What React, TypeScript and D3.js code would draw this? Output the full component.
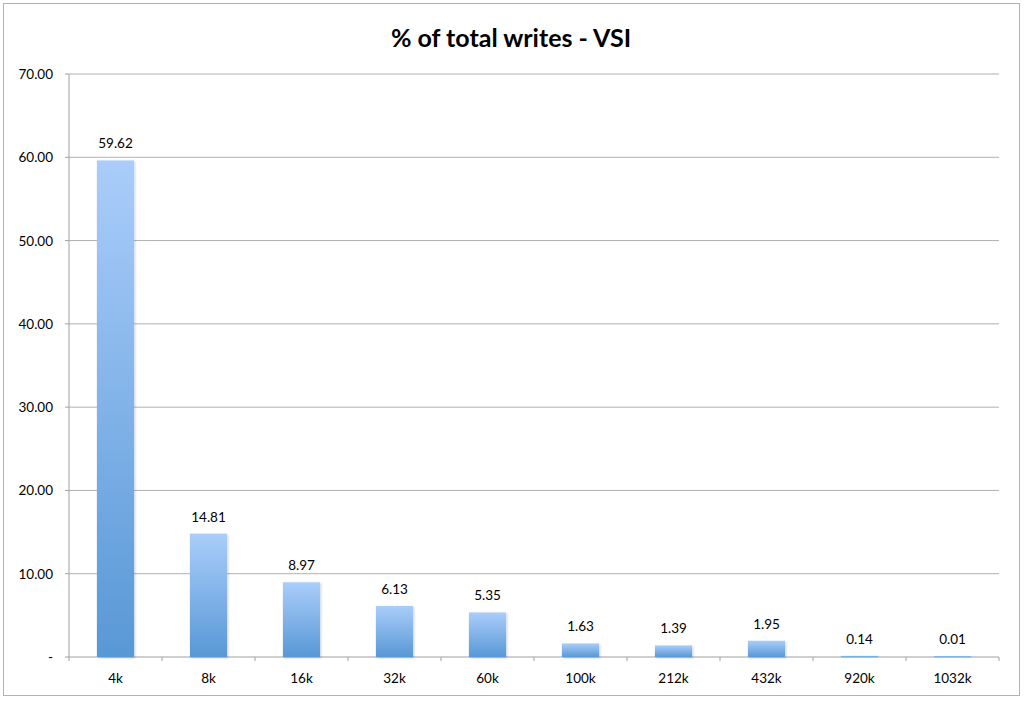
import React from "react";
import * as d3 from "d3";

const categories = ["4k", "8k", "16k", "32k", "60k", "100k", "212k", "432k", "920k", "1032k"];
const values = [59.62, 14.81, 8.97, 6.13, 5.35, 1.63, 1.39, 1.95, 0.14, 0.01];
const yTicks = [0, 10, 20, 30, 40, 50, 60, 70];
const title = "% of total writes - VSI";

const W = 1024;
const H = 701;
const left = 69;
const right = 999;
const top = 74;
const bottom = 657;
const font = "Lato, 'Open Sans', sans-serif";

export default function App() {
  const x = d3.scaleBand<string>().domain(categories).range([left, right]).paddingInner(0).paddingOuter(0);
  const y = d3.scaleLinear().domain([0, 70]).range([bottom, top]);
  const bw = x.bandwidth() * 0.4;
  const fmt = (v: number) => (v === 0 ? "-" : d3.format(".2f")(v));
  return (
    <svg width={W} height={H} style={{ position: "absolute", left: 0, top: 0 }}>
      <defs>
        <linearGradient id="barGrad" x1="0" y1="0" x2="0" y2="1">
          <stop offset="0%" stopColor="#aacdfa" />
          <stop offset="100%" stopColor="#5898d6" />
        </linearGradient>
        <filter id="shadow" x="-20%" y="-20%" width="140%" height="140%">
          <feDropShadow dx="1" dy="1" stdDeviation="1" floodColor="#000" floodOpacity="0.2" />
        </filter>
      </defs>
      <rect x={0} y={0} width={W} height={H} fill="#fff" />
      <rect x={3.5} y={3.5} width={1016} height={692} fill="#fff" stroke="#b3b3b3" strokeWidth={1} />
      <text x={511} y={47} textAnchor="middle" fontFamily={font} fontWeight="bold" fontSize={25} fill="#000">
        {title}
      </text>
      {yTicks.map((t) => (
        <g key={t}>
          {t > 0 && <line x1={left} x2={right} y1={y(t)} y2={y(t)} stroke="#b0b0b0" strokeWidth={1} />}
          <line x1={left - 4} x2={left} y1={y(t)} y2={y(t)} stroke="#a0a0a0" strokeWidth={1} />
          <text x={left - 16} y={y(t) + 5} textAnchor="end" fontFamily={font} fontSize={13.5} fill="#000">
            {fmt(t)}
          </text>
        </g>
      ))}
      <line x1={left} x2={left} y1={top} y2={bottom} stroke="#a0a0a0" strokeWidth={1} />
      <line x1={left} x2={right} y1={bottom} y2={bottom} stroke="#a0a0a0" strokeWidth={1} />
      {categories.map((c) => (
        <line key={"t" + c} x1={x(c)!} x2={x(c)!} y1={bottom} y2={bottom + 4} stroke="#a0a0a0" />
      ))}
      <line x1={right} x2={right} y1={bottom} y2={bottom + 4} stroke="#a0a0a0" />
      {categories.map((c, i) => {
        const cx = x(c)! + x.bandwidth() / 2;
        const v = values[i];
        const yt = y(v);
        const h = Math.max(bottom - yt, 1);
        return (
          <g key={c}>
            <rect x={cx - bw / 2} y={bottom - h} width={bw} height={h} fill="url(#barGrad)" filter="url(#shadow)" />
            <text x={cx} y={bottom - h - 12} textAnchor="middle" fontFamily={font} fontSize={13.5} fill="#000">
              {d3.format(".2f")(v)}
            </text>
            <text x={cx} y={bottom + 26} textAnchor="middle" fontFamily={font} fontSize={13.5} fill="#000">
              {c}
            </text>
          </g>
        );
      })}
    </svg>
  );
}
